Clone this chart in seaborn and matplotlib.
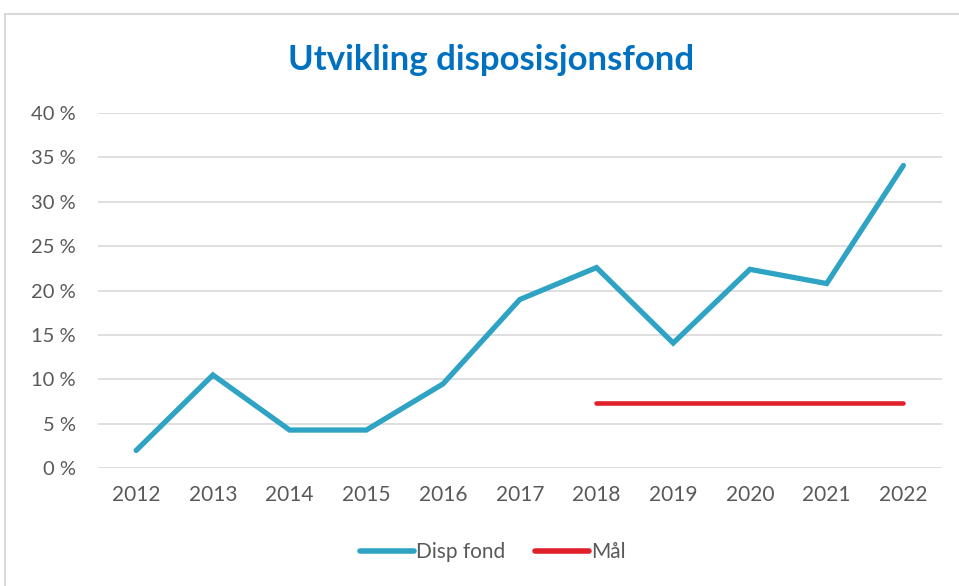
import pandas as pd
import seaborn as sns
import matplotlib.pyplot as plt
from matplotlib.patches import Rectangle
from matplotlib.ticker import FuncFormatter

# Data (percent)
years = [2012, 2013, 2014, 2015, 2016, 2017, 2018, 2019, 2020, 2021, 2022]
disp_fond = [2.0, 10.5, 4.3, 4.3, 9.5, 19.0, 22.6, 14.1, 22.4, 20.8, 34.1]
maal_years = [2018, 2019, 2020, 2021, 2022]
maal = [7.4, 7.4, 7.4, 7.4, 7.4]

df = pd.concat([
    pd.DataFrame({'year': years, 'value': disp_fond, 'serie': 'Disp fond'}),
    pd.DataFrame({'year': maal_years, 'value': maal, 'serie': 'Mål'}),
])

sns.set_style('white')
plt.rcParams['font.family'] = ['Lato', 'DejaVu Sans']

fig = plt.figure(figsize=(9.59, 5.86), dpi=100)
ax = fig.add_axes([0.102, 0.201, 0.880, 0.606])

# outer chart border
fig.patches.append(Rectangle((0.005, -0.1), 1.2, 1.076, transform=fig.transFigure,
                             fill=False, edgecolor='#D9D9D9', linewidth=1.5))

palette = {'Disp fond': '#2EA3C3', 'Mål': '#E0202A'}
sns.lineplot(data=df, x='year', y='value', hue='serie', palette=palette,
             linewidth=3.8, ax=ax, legend=False)
ax.lines[1].set_linewidth(3.3)
for ln in ax.lines:
    ln.set_solid_capstyle('round')
    ln.set_solid_joinstyle('miter')

ax.set_xlim(2011.5, 2022.5)
ax.set_ylim(0, 40)
ax.set_xticks(years)
ax.set_yticks(range(0, 41, 5))
ax.yaxis.set_major_formatter(FuncFormatter(lambda v, p: f'{v:.0f} %'))
ax.grid(axis='y', color='#D9D9D9', linewidth=1.2)
ax.set_axisbelow(True)
for s in ax.spines.values():
    s.set_visible(False)
ax.tick_params(axis='both', length=0, labelcolor='#595959')
ax.tick_params(axis='y', pad=16, labelsize=14.5)
ax.tick_params(axis='x', pad=12, labelsize=15)
ax.set_xlabel('')
ax.set_ylabel('')

fig.text(0.512, 0.897, 'Utvikling disposisjonsfond', ha='center', va='center',
         fontsize=25, fontweight='bold', color='#0070C0')

handles = [plt.Line2D([], [], color=palette['Disp fond'], linewidth=4, solid_capstyle='round'),
           plt.Line2D([], [], color=palette['Mål'], linewidth=4, solid_capstyle='round')]
leg = fig.legend(handles, ['Disp fond', 'Mål'], loc='center', bbox_to_anchor=(0.514, 0.058),
                 ncol=2, frameon=False, fontsize=15, handlelength=2.6, handletextpad=0.1,
                 columnspacing=1.4)
for t in leg.get_texts():
    t.set_color('#595959')

fig.savefig('out.png', dpi=100)
